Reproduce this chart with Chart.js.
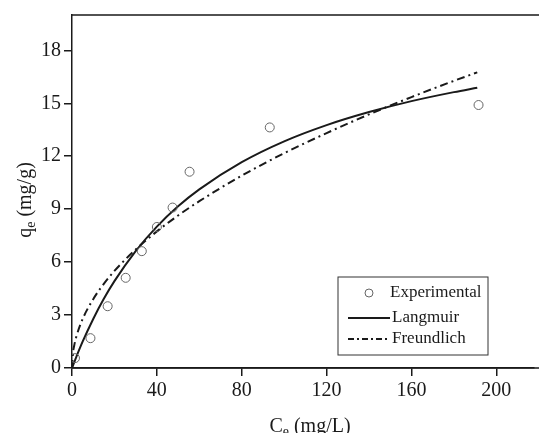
<!DOCTYPE html>
<html>
<head>
<meta charset="utf-8">
<script src="https://cdn.jsdelivr.net/npm/chart.js@4"></script>
<style>
  body { margin: 0; background: #fff; }
  #wrap { width: 539px; height: 433px; }
</style>
</head>
<body>
<div id="wrap"><canvas id="chart" width="539" height="433"></canvas></div>
<script>
// experimental points
const ceExp = [1.4, 8.7, 16.8, 25.3, 32.9, 40.0, 47.4, 55.4, 93.2, 191.6];
const qeExp = [0.56, 1.69, 3.50, 5.11, 6.62, 7.99, 9.09, 11.12, 13.63, 14.90];

// fitted curves
const ceLangmuir = [0, 2, 5, 10, 15, 20, 30, 40, 50, 60, 80, 100, 120, 140, 160, 180, 191];
const qeLangmuir = [0, 0.62, 1.49, 2.78, 3.92, 4.92, 6.62, 8.01, 9.16, 10.12, 11.66, 12.84, 13.76, 14.50, 15.12, 15.63, 15.88];
const ceFreundlich = [0, 0.5, 1, 2, 5, 10, 15, 20, 30, 40, 50, 60, 80, 100, 120, 140, 160, 180, 191];
const qeFreundlich = [0, 0.89, 1.25, 1.76, 2.77, 3.90, 4.77, 5.50, 6.71, 7.74, 8.64, 9.45, 10.90, 12.17, 13.31, 14.37, 15.35, 16.27, 16.75];

const xTicks = [0, 40, 80, 120, 160, 200];
const yTicks = [0, 3, 6, 9, 12, 15, 18];
const seriesNames = ["Experimental", "Langmuir", "Freundlich"];

const FONT = "'Liberation Serif', 'Times New Roman', serif";
const INK = "#1a1a1a";

const pts = (xs, ys) => xs.map((x, i) => ({ x, y: ys[i] }));

// text with a subscript part: [["C", false], ["e", true], [" (mg/L)", false]]
function drawSub(ctx, parts, size) {
  let w = 0;
  parts.forEach(([t, sub]) => {
    ctx.font = (sub ? size * 0.7 : size) + "px " + FONT;
    w += ctx.measureText(t).width;
  });
  let x = -w / 2;
  parts.forEach(([t, sub]) => {
    ctx.font = (sub ? size * 0.7 : size) + "px " + FONT;
    ctx.fillText(t, x, sub ? size * 0.2 : 0);
    x += ctx.measureText(t).width;
  });
}

const extras = {
  id: "extras",
  afterDraw(chart) {
    const { ctx, chartArea: a } = chart;
    ctx.save();
    // top and bottom lines run to the edge, no right spine
    ctx.strokeStyle = INK;
    ctx.lineWidth = 1.5;
    ctx.beginPath();
    ctx.moveTo(a.left, a.top);
    ctx.lineTo(539, a.top);
    ctx.moveTo(a.left, a.bottom);
    ctx.lineTo(539, a.bottom);
    ctx.stroke();

    // axis titles
    ctx.fillStyle = INK;
    ctx.textBaseline = "alphabetic";
    ctx.save();
    ctx.translate(310, 432);
    drawSub(ctx, [["C", false], ["e", true], [" (mg/L)", false]], 20);
    ctx.restore();
    ctx.save();
    ctx.translate(31, 200);
    ctx.rotate(-Math.PI / 2);
    drawSub(ctx, [["q", false], ["e", true], [" (mg/g)", false]], 20);
    ctx.restore();

    // legend box
    const bx = 338, by = 277, bw = 150, bh = 78;
    ctx.lineWidth = 1;
    ctx.strokeStyle = "#333";
    ctx.fillStyle = "#fff";
    ctx.fillRect(bx, by, bw, bh);
    ctx.strokeRect(bx, by, bw, bh);
    ctx.font = "17px " + FONT;
    ctx.fillStyle = INK;
    ctx.textBaseline = "middle";
    const rows = [293, 318, 339];
    // circle
    ctx.strokeStyle = "#666";
    ctx.lineWidth = 1;
    ctx.beginPath();
    ctx.arc(369, rows[0], 4, 0, Math.PI * 2);
    ctx.stroke();
    ctx.fillText(seriesNames[0], 390, rows[0]);
    // solid
    ctx.strokeStyle = INK;
    ctx.lineWidth = 1.8;
    ctx.beginPath();
    ctx.moveTo(348, rows[1]);
    ctx.lineTo(390, rows[1]);
    ctx.stroke();
    ctx.fillText(seriesNames[1], 392, rows[1]);
    // dash-dot
    ctx.setLineDash([6, 3, 2, 3]);
    ctx.beginPath();
    ctx.moveTo(348, rows[2]);
    ctx.lineTo(390, rows[2]);
    ctx.stroke();
    ctx.setLineDash([]);
    ctx.fillText(seriesNames[2], 392, rows[2]);
    ctx.restore();
  }
};

new Chart(document.getElementById("chart"), {
  type: "scatter",
  data: {
    datasets: [
      {
        label: seriesNames[0],
        data: pts(ceExp, qeExp),
        pointStyle: "circle",
        pointRadius: 4.5,
        pointBorderColor: "#666",
        pointBackgroundColor: "rgba(255,255,255,0)",
        pointBorderWidth: 1,
        showLine: false
      },
      {
        label: seriesNames[1],
        data: pts(ceLangmuir, qeLangmuir),
        showLine: true,
        borderColor: INK,
        borderWidth: 2,
        pointRadius: 0,
        cubicInterpolationMode: "monotone"
      },
      {
        label: seriesNames[2],
        data: pts(ceFreundlich, qeFreundlich),
        showLine: true,
        borderColor: INK,
        borderWidth: 2,
        borderDash: [8, 4, 2, 4],
        pointRadius: 0,
        cubicInterpolationMode: "monotone"
      }
    ]
  },
  options: {
    responsive: false,
    animation: false,
    layout: { padding: { top: 14, right: 0, left: 0, bottom: 0 } },
    plugins: { legend: { display: false }, tooltip: { enabled: false } },
    scales: {
      x: {
        type: "linear",
        min: 0,
        max: 217.5,
        afterBuildTicks: s => { s.ticks = xTicks.map(v => ({ value: v })); },
        afterFit: s => { s.height = 65; },
        grid: { drawOnChartArea: false, tickLength: 8, color: INK, lineWidth: 1.5 },
        border: { color: INK, width: 1.5 },
        ticks: { color: INK, font: { family: FONT, size: 20 }, padding: 3, maxRotation: 0 }
      },
      y: {
        type: "linear",
        min: 0,
        max: 20,
        afterBuildTicks: s => { s.ticks = yTicks.map(v => ({ value: v })); },
        afterFit: s => { s.width = 72; },
        grid: { drawOnChartArea: false, tickLength: 8, color: INK, lineWidth: 1.5 },
        border: { color: INK, width: 1.5 },
        ticks: { color: INK, font: { family: FONT, size: 20 }, padding: 3 }
      }
    }
  },
  plugins: [extras]
});
</script>
</body>
</html>
